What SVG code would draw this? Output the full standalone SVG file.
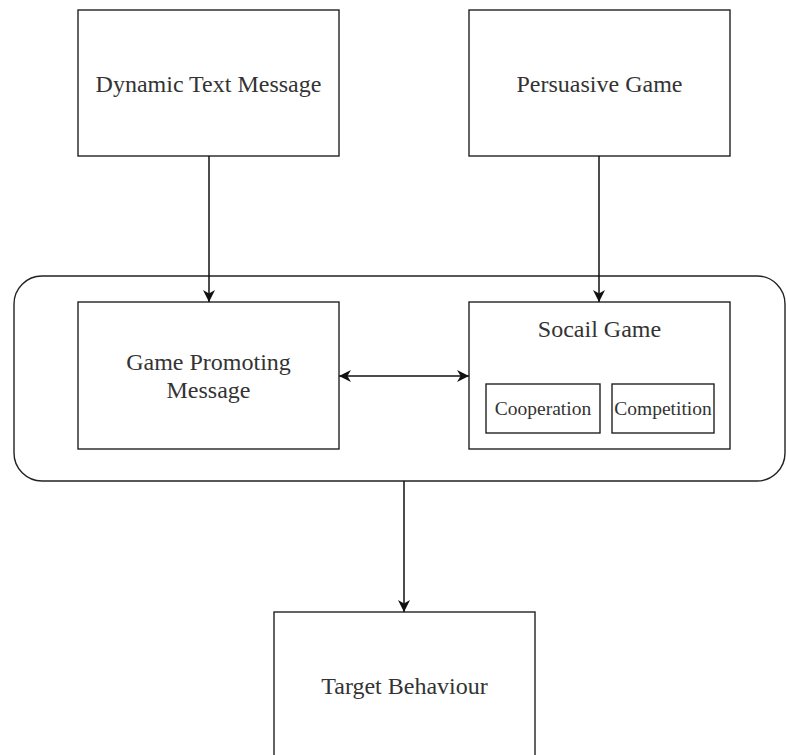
<svg xmlns="http://www.w3.org/2000/svg" width="786" height="755" viewBox="0 0 786 755">
<style>
.box{fill:#fff;stroke:#222;stroke-width:1.4}
.t{font-family:"Liberation Serif","Times New Roman","DejaVu Serif",serif;font-size:24px;fill:#333;text-anchor:middle}
.s{font-family:"Liberation Serif","Times New Roman","DejaVu Serif",serif;font-size:19.5px;fill:#333;text-anchor:middle}
.c{fill:none;stroke:#111;stroke-width:1.5}
</style>
<defs>
<marker id="ah" viewBox="0 0 10 10" refX="10" refY="5" markerWidth="12" markerHeight="12" markerUnits="userSpaceOnUse" orient="auto-start-reverse">
<path d="M0,0 L10,5 L0,10 L3,5 Z" fill="#111"/>
</marker>
</defs>
<rect width="786" height="755" fill="#fff"/>
<g id="group">
<rect class="box" x="14" y="276" width="771" height="205" rx="28" ry="28"/>
</g>
<g id="dynamic">
<rect class="box" x="78" y="10" width="261" height="146"/>
<text class="t" x="208.5" y="92">Dynamic Text Message</text>
</g>
<g id="persuasive">
<rect class="box" x="469" y="10" width="261" height="146"/>
<text class="t" x="599.5" y="92">Persuasive Game</text>
</g>
<g id="promoting">
<rect class="box" x="78" y="302" width="261" height="147"/>
<text class="t" x="208.5" y="370">Game Promoting</text>
<text class="t" x="208.5" y="398">Message</text>
</g>
<g id="social">
<rect class="box" x="469" y="302" width="261" height="147"/>
<text class="t" x="599.5" y="337">Socail Game</text>
</g>
<g id="cooperation">
<rect class="box" x="486" y="384" width="114" height="49"/>
<text class="s" x="543" y="415">Cooperation</text>
</g>
<g id="competition">
<rect class="box" x="612" y="384" width="102" height="49"/>
<text class="s" x="663" y="415">Competition</text>
</g>
<g id="target">
<rect class="box" x="274" y="612" width="261" height="150"/>
<text class="t" x="404.5" y="694">Target Behaviour</text>
</g>
<g id="connectors">
<path class="c" d="M209,156 V302" marker-end="url(#ah)"/>
<path class="c" d="M599,156 V302" marker-end="url(#ah)"/>
<path class="c" d="M339,376 H469" marker-start="url(#ah)" marker-end="url(#ah)"/>
<path class="c" d="M404,481 V612" marker-end="url(#ah)"/>
</g>
</svg>
